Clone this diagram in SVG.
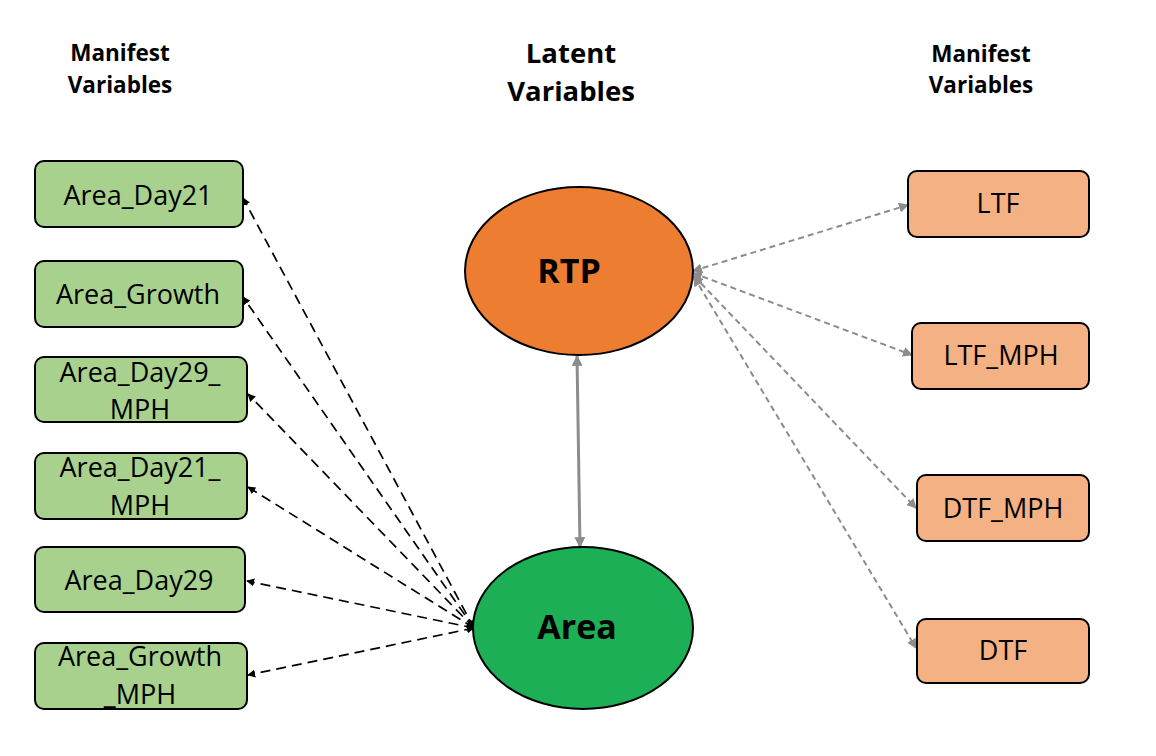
<svg xmlns="http://www.w3.org/2000/svg" width="1156" height="756" viewBox="0 0 1156 756">
<defs>
<marker id="ab" viewBox="0 0 10 10" refX="9" refY="5" markerWidth="8" markerHeight="8" markerUnits="userSpaceOnUse" orient="auto-start-reverse"><path d="M0,0 L10,5 L0,10 z" fill="#000"/></marker>
<marker id="ag" viewBox="0 0 10 10" refX="9" refY="5" markerWidth="10" markerHeight="10" markerUnits="userSpaceOnUse" orient="auto-start-reverse"><path d="M0,0 L10,5 L0,10 z" fill="#8C8C8C"/></marker>
<marker id="ag2" viewBox="0 0 10 10" refX="9" refY="5" markerWidth="11" markerHeight="11" markerUnits="userSpaceOnUse" orient="auto-start-reverse"><path d="M0,0 L10,5 L0,10 z" fill="#8C8C8C"/></marker>
</defs>
<style>
.t{font-family:"Open Sans","Noto Sans",sans-serif;fill:#000;text-anchor:middle}
.h{font-weight:bold}
.lv{fill:#A9D18E;stroke:#000;stroke-width:2}
.rv{fill:#F4B183;stroke:#000;stroke-width:2}
.n{font-size:27px}
.bl{fill:none;stroke:#000;stroke-width:1.7;stroke-dasharray:10 6}
.gl{fill:none;stroke:#8C8C8C;stroke-width:2;stroke-dasharray:6 4}
</style>
<rect width="1156" height="756" fill="#fff"/>
<g id="headers">
<text class="t h" font-size="22.5" x="120" y="61">Manifest</text>
<text class="t h" font-size="22.5" x="120" y="93">Variables</text>
<text class="t h" font-size="27.5" x="571" y="63">Latent</text>
<text class="t h" font-size="27.5" x="571" y="101">Variables</text>
<text class="t h" font-size="22.5" x="981" y="62">Manifest</text>
<text class="t h" font-size="22.5" x="981" y="93">Variables</text>
</g>
<g id="connectors">
<line class="bl" x1="474" y1="628" x2="243" y2="198" marker-start="url(#ab)" marker-end="url(#ab)"/>
<line class="bl" x1="474" y1="628" x2="243" y2="297" marker-start="url(#ab)" marker-end="url(#ab)"/>
<line class="bl" x1="474" y1="628" x2="248" y2="394" marker-start="url(#ab)" marker-end="url(#ab)"/>
<line class="bl" x1="474" y1="628" x2="248" y2="487" marker-start="url(#ab)" marker-end="url(#ab)"/>
<line class="bl" x1="474" y1="628" x2="247" y2="581" marker-start="url(#ab)" marker-end="url(#ab)"/>
<line class="bl" x1="474" y1="628" x2="248" y2="675" marker-start="url(#ab)" marker-end="url(#ab)"/>
<line class="gl" x1="693" y1="271" x2="908" y2="205" marker-start="url(#ag)" marker-end="url(#ag)"/>
<line class="gl" x1="693" y1="273" x2="912" y2="355" marker-start="url(#ag)" marker-end="url(#ag)"/>
<line class="gl" x1="694" y1="276" x2="916" y2="508" marker-start="url(#ag)" marker-end="url(#ag)"/>
<line class="gl" x1="694" y1="277" x2="916" y2="648" marker-start="url(#ag)" marker-end="url(#ag)"/>
<line x1="577" y1="356" x2="580" y2="547" stroke="#8C8C8C" stroke-width="3" marker-start="url(#ag2)" marker-end="url(#ag2)"/>
</g>
<g id="RTP">
<ellipse cx="579" cy="271" rx="114" ry="84" fill="#ED7D31" stroke="#000" stroke-width="2"/>
<text class="t h" font-size="34" x="569" y="283">RTP</text>
</g>
<g id="Area">
<ellipse cx="583" cy="628" rx="110" ry="81" fill="#1DAF55" stroke="#000" stroke-width="2"/>
<text class="t h" font-size="34" x="577" y="639">Area</text>
</g>
<g id="Area_Day21"><rect class="lv" x="35" y="161" width="208" height="66" rx="9"/><text class="t n" x="138" y="205">Area_Day21</text></g>
<g id="Area_Growth"><rect class="lv" x="35" y="261" width="208" height="66" rx="9"/><text class="t n" x="138" y="304">Area_Growth</text></g>
<g id="Area_Day29_MPH"><rect class="lv" x="35" y="357" width="212" height="65" rx="9"/><text class="t n" x="140" y="382">Area_Day29_</text><text class="t n" x="140" y="419">MPH</text></g>
<g id="Area_Day21_MPH"><rect class="lv" x="35" y="453" width="212" height="66" rx="9"/><text class="t n" x="140" y="477">Area_Day21_</text><text class="t n" x="140" y="515">MPH</text></g>
<g id="Area_Day29"><rect class="lv" x="35" y="547" width="210" height="65" rx="9"/><text class="t n" x="139" y="590">Area_Day29</text></g>
<g id="Area_Growth_MPH"><rect class="lv" x="35" y="643" width="212" height="66" rx="9"/><text class="t n" x="140" y="666">Area_Growth</text><text class="t n" x="140" y="704">_MPH</text></g>
<g id="LTF"><rect class="rv" x="908" y="171" width="181" height="66" rx="9"/><text class="t n" x="998" y="213">LTF</text></g>
<g id="LTF_MPH"><rect class="rv" x="912" y="323" width="177" height="66" rx="9"/><text class="t n" x="1001" y="365">LTF_MPH</text></g>
<g id="DTF_MPH"><rect class="rv" x="917" y="475" width="172" height="66" rx="9"/><text class="t n" x="1003" y="518">DTF_MPH</text></g>
<g id="DTF"><rect class="rv" x="917" y="619" width="172" height="64" rx="9"/><text class="t n" x="1003" y="660">DTF</text></g>
</svg>
